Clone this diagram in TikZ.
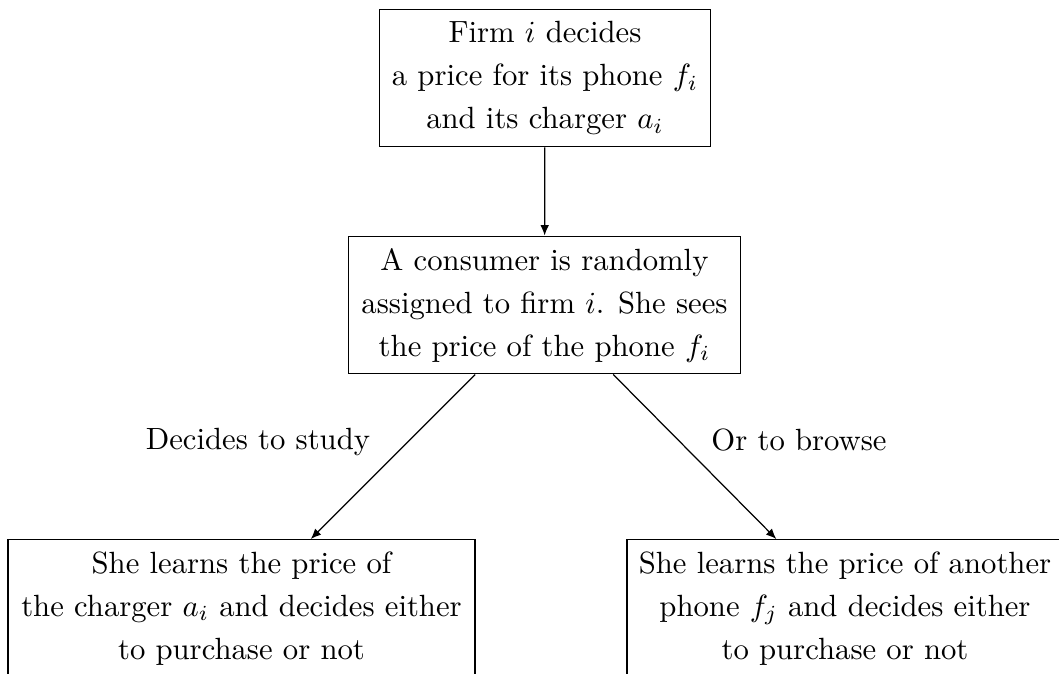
\documentclass[tikz,border=0pt]{standalone}
\usetikzlibrary{arrows.meta}
\begin{document}
\begin{tikzpicture}[x=0.3257pt,y=-0.3257pt,
  txt/.style={font=\fontsize{10pt}{12pt}\selectfont},
  box/.style={font=\fontsize{10pt}{14pt}\selectfont, draw, align=center, inner sep=3.33pt, minimum height=44.85pt},
  lbl/.style={txt, anchor=base, inner sep=0pt},
  arr/.style={-{Latex[length=3.4pt,width=2.8pt]}}]
\useasboundingbox (0,0) rectangle (1059,673);
\clip (0,0) rectangle (1059,673);
\node[box, minimum width=107.9pt] (firm) at (545,78)
  {Firm $i$ decides\\ a price for its phone $f_i$\\ and its charger $a_i$};
\node[box, minimum width=127.8pt] (cons) at (544.5,305)
  {A consumer is randomly\\ assigned to firm $i$. She sees\\ the price of the phone $f_i$};
\node[box, minimum width=152.1pt] (study) at (241.5,608.5)
  {She learns the price of\\ the charger $a_i$ and decides either\\ to purchase or not};
\node[box, minimum width=142.0pt] (browse) at (845,608.5)
  {She learns the price of another\\ phone $f_j$ and decides either\\ to purchase or not};
\draw[arr] (firm) -- (cons);
\draw[arr] (cons) -- (study);
\draw[arr] (cons) -- (browse);
\node[lbl] (lstudy) at (258,449) {Decides to study};
\node[lbl] (lbrowse) at (799,450.5) {Or to browse};
\end{tikzpicture}
\end{document}
